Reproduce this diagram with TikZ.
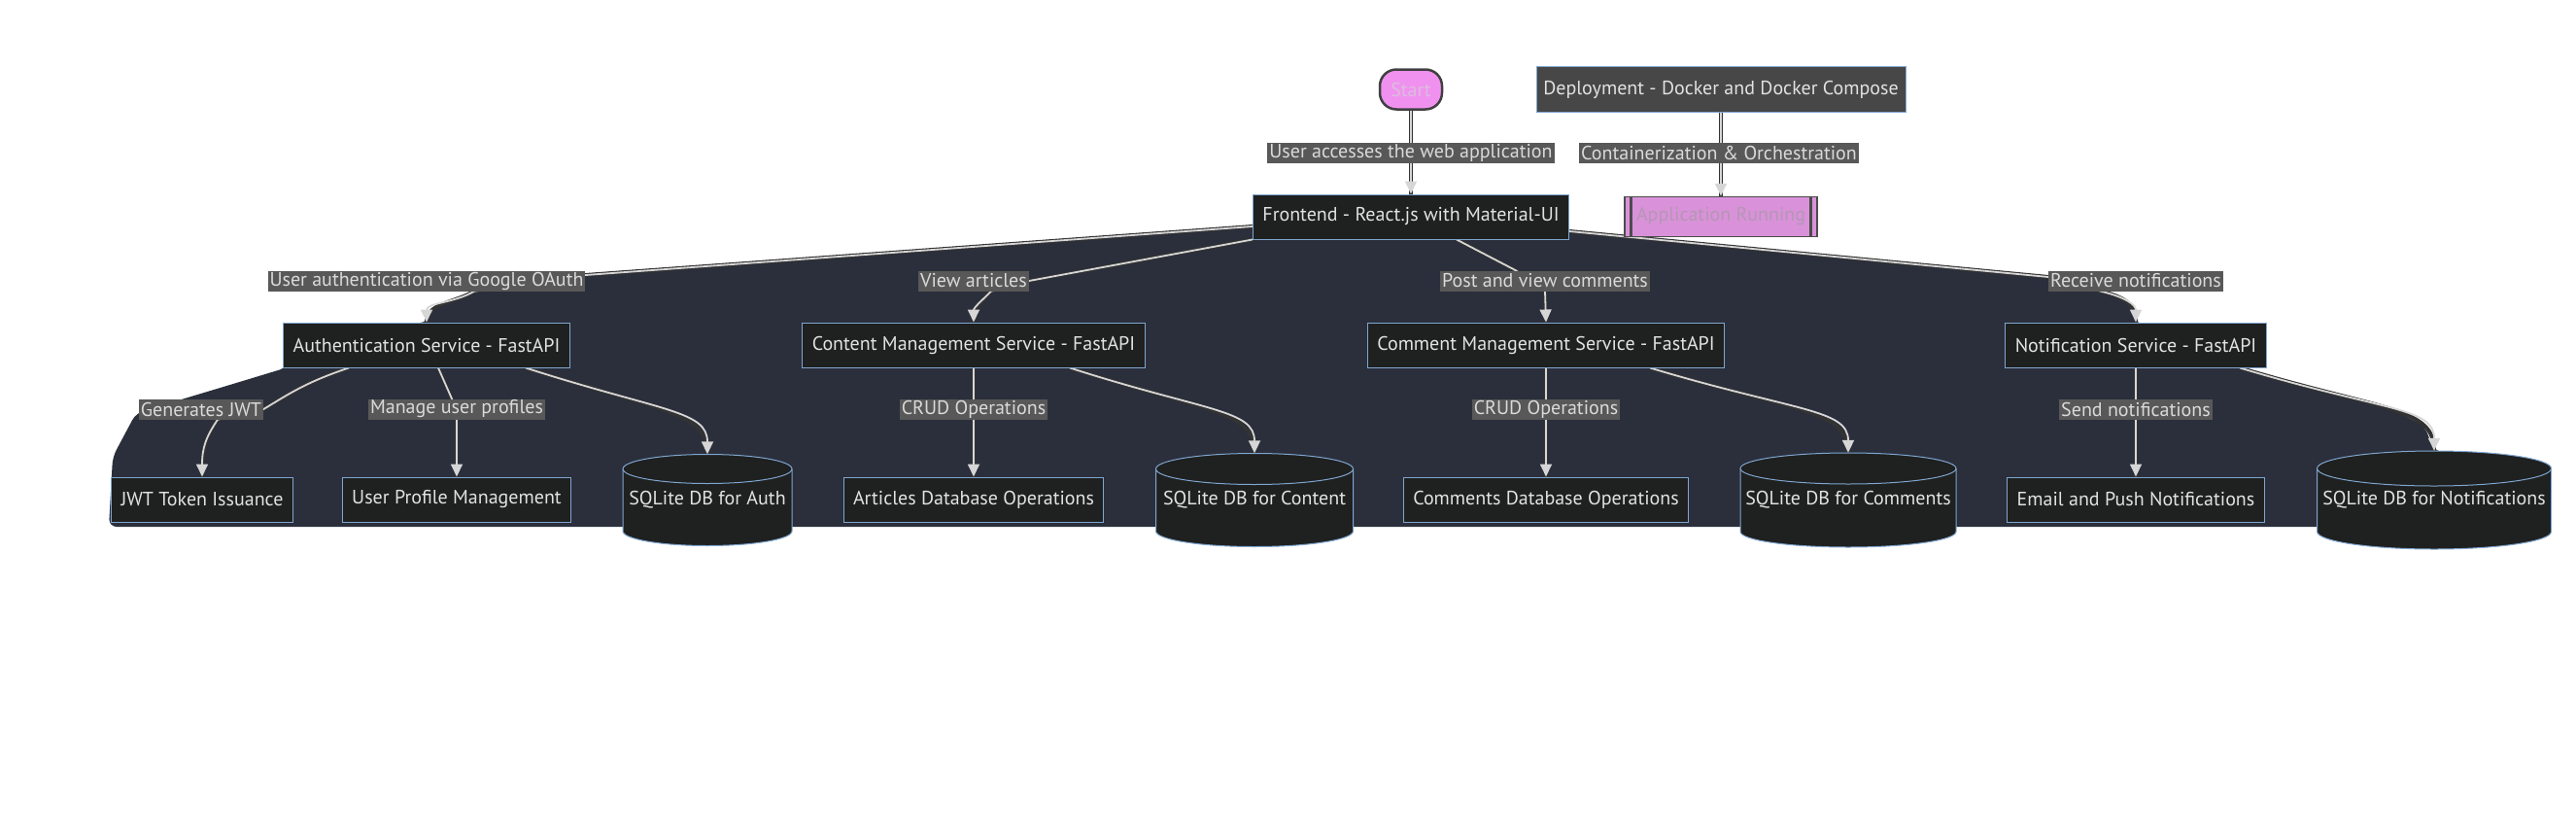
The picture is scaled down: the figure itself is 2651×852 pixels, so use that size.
\documentclass[tikz,border=0pt]{standalone}
\usepackage{fontspec}
\setmainfont{PT Sans}
\usepackage{tikz}
\usetikzlibrary{shapes,arrows.meta,positioning,calc}

\definecolor{blobcol}{HTML}{2B2F3C}
\definecolor{nodefill}{HTML}{1F2020}
\definecolor{nodeline}{HTML}{7FA6CF}
\definecolor{nodetext}{HTML}{E2E2E2}
\definecolor{lblfill}{HTML}{585858}
\definecolor{lbltext}{HTML}{DADADA}
\definecolor{edgecol}{HTML}{D6D6D6}
\definecolor{startfill}{HTML}{F091F0}
\definecolor{starttext}{HTML}{DCBCDC}
\definecolor{runfill}{HTML}{D992D9}
\definecolor{runtext}{HTML}{B596B5}
\definecolor{deployfill}{HTML}{474747}

\pgfdeclarelayer{back}
\pgfsetlayers{back,main}

\tikzset{
    txt/.style={font=\fontsize{20}{23}\selectfont},
    svc/.style={txt, draw=nodeline, fill=nodefill, text=nodetext, line width=1pt, minimum height=46pt, inner xsep=10pt},
    dbtext/.style={txt, text=nodetext, inner sep=0pt},
    dbshape/.style={draw=nodeline, fill=nodefill, line width=1pt},
    lbl/.style={txt, fill=lblfill, text=lbltext, inner xsep=2pt, inner ysep=1pt, minimum height=21pt},
    startnode/.style={txt, fill=startfill, draw=black!75, line width=2.5pt, text=starttext, rounded corners=17pt, minimum width=64pt, minimum height=41pt},
    deploy/.style={txt, fill=deployfill, draw=nodeline, line width=1pt, text=nodetext, minimum width=380pt, minimum height=47pt},
    run/.style={txt, fill=runfill, draw=black!70, line width=1.5pt, text=runtext, minimum width=198pt, minimum height=41pt},
    flow/.style={draw=edgecol, line width=1.8pt, -{Triangle[length=13pt,width=12pt]}, preaction={draw=black!80, line width=4pt, -}}
}

\begin{document}
\begin{tikzpicture}[x=1pt,y=-1pt]
    \useasboundingbox (0,0) rectangle (2651,852);
    % Dark backdrop
    \begin{pgfonlayer}{back}
    \fill[blobcol, rounded corners=8pt] (1292,233) -- (597,283) -- (597,299) -- (488,300) -- (462,309) -- (445,316) -- (440,332)
        -- (296,332) -- (296,378) -- (230,398) -- (140,425) -- (116,470) -- (112,542) -- (2625,542) -- (2625,480)
        -- (2505,464) -- (2495,438) -- (2461,421) -- (2400,404) -- (2305,378) -- (2198,332) -- (2195,315) -- (2180,304)
        -- (2162,300) -- (2111,299) -- (2111,285) -- (1612,238) -- cycle;
    \end{pgfonlayer}
    % Top row
    \node[startnode] (start) at (1452,92) {Start};
    \node[deploy] (deploy) at (1771,92) {Deployment - Docker and Docker Compose};
    \node[svc] (fe) at (1452,223) {Frontend - React.js with Material-UI};
    \node[run] (run) at (1771,223) {Application Running};
    \draw[black!70, line width=3pt] ([xshift=7pt]run.north west) -- ([xshift=7pt]run.south west);
    \draw[black!70, line width=3pt] ([xshift=-7pt]run.north east) -- ([xshift=-7pt]run.south east);
    % Services
    \node[svc] (auth) at (439,355) {Authentication Service - FastAPI};
    \node[svc] (content) at (1002,355) {Content Management Service - FastAPI};
    \node[svc] (comment) at (1591,355) {Comment Management Service - FastAPI};
    \node[svc] (notif) at (2198,355) {Notification Service - FastAPI};
    % Bottom row
    \node[svc] (jwt) at (208,514) {JWT Token Issuance};
    \node[svc] (profile) at (470,514) {User Profile Management};
    \node[svc] (articles) at (1002,514) {Articles Database Operations};
    \node[svc] (comments) at (1591,514) {Comments Database Operations};
    \node[svc] (email) at (2198,514) {Email and Push Notifications};
    % Databases: name/x/width/height/rim/text
    \foreach \n/\px/\w/\h/\r/\t in {dbauth/728/174/94/15/SQLite DB for Auth,
                                    dbcontent/1291/203/96/16/SQLite DB for Content,
                                    dbcomment/1902/222/97/16/SQLite DB for Comments,
                                    dbnotif/2505/241/101/18/SQLite DB for Notifications} {
        \pgfmathsetmacro\xl{\px-\w/2}
        \pgfmathsetmacro\xr{\px+\w/2}
        \pgfmathsetmacro\yt{514.5-\h/2+\r}
        \pgfmathsetmacro\yb{514.5+\h/2-\r}
        \pgfmathsetmacro\rx{\w/2}
        \filldraw[dbshape] (\xl,\yt) -- (\xl,\yb) arc[start angle=180, end angle=360, x radius=\rx pt, y radius=\r pt]
            -- (\xr,\yt) arc[start angle=0, end angle=180, x radius=\rx pt, y radius=\r pt] -- cycle;
        \draw[dbshape, fill=none] (\xl,\yt) arc[start angle=180, end angle=360, x radius=\rx pt, y radius=\r pt];
        \node[dbtext, minimum width=\w pt, minimum height=\h pt] (\n) at (\px,514.5) {\t};
    }
    % Edge labels
    \node[lbl] (lstart) at (1452,157) {User accesses the web application};
    \node[lbl] (lcont) at (1769,157) {Containerization \& Orchestration};
    \node[lbl] (lauth) at (439,289) {User authentication via Google OAuth};
    \node[lbl] (lview) at (1002,289) {View articles};
    \node[lbl] (lpost) at (1590,289) {Post and view comments};
    \node[lbl] (lrecv) at (2198,289) {Receive notifications};
    \node[lbl] (lgen) at (207,421) {Generates JWT};
    \node[lbl] (lman) at (470,421) {Manage user profiles};
    \node[lbl] (lcrudc) at (1002,421) {CRUD Operations};
    \node[lbl] (lcrudm) at (1591,421) {CRUD Operations};
    \node[lbl] (lsend) at (2198,421) {Send notifications};

    \begin{pgfonlayer}{back}
    % Edges
    \draw[flow] (start) -- (fe);
    \draw[flow] (deploy) -- (run);
    \draw[flow] ([yshift=-10pt]fe.west) -- ([yshift=6pt]lauth.east) -- ([xshift=49pt]lauth.south) .. controls +(-20,12) and +(0,-20) .. (auth.north);
    \draw[flow] (fe.south west) -- (lview.east) -- ([xshift=18pt]lview.south) .. controls +(-8,8) and +(0,-15) .. (content.north);
    \draw[flow] ([xshift=47pt]fe.south) -- ([xshift=-30pt]lpost.north) -- (lpost.south) -- (comment.north);
    \draw[flow] ([yshift=-15pt]fe.east) -- ([yshift=4pt]lrecv.west) -- ([xshift=-36pt]lrecv.south) .. controls +(25,6) and +(0,-18) .. (notif.north);
    \draw[flow] ([xshift=-80pt]auth.south) .. controls +(-45,15) and +(25,-15) .. (lgen.east) -- ([xshift=17pt]lgen.south) .. controls +(-12,18) and +(0,-30) .. (jwt.north);
    \draw[flow] ([xshift=12pt]auth.south) -- ([xshift=-5pt]lman.north) -- (lman.south) -- (profile.north);
    \draw[flow] ([xshift=102pt]auth.south) .. controls +(140,45) and +(0,-45) .. (dbauth.north);
    \draw[flow] (content) -- (articles);
    \draw[flow] ([xshift=99pt]content.south) .. controls +(140,45) and +(0,-45) .. (dbcontent.north);
    \draw[flow] (comment) -- (comments);
    \draw[flow] ([xshift=107pt]comment.south) .. controls +(150,45) and +(0,-45) .. (dbcomment.north);
    \draw[flow] (notif) -- (email);
    \draw[flow] ([xshift=107pt]notif.south) .. controls +(150,45) and +(0,-45) .. (dbnotif.north);
    \end{pgfonlayer}
\end{tikzpicture}
\end{document}
